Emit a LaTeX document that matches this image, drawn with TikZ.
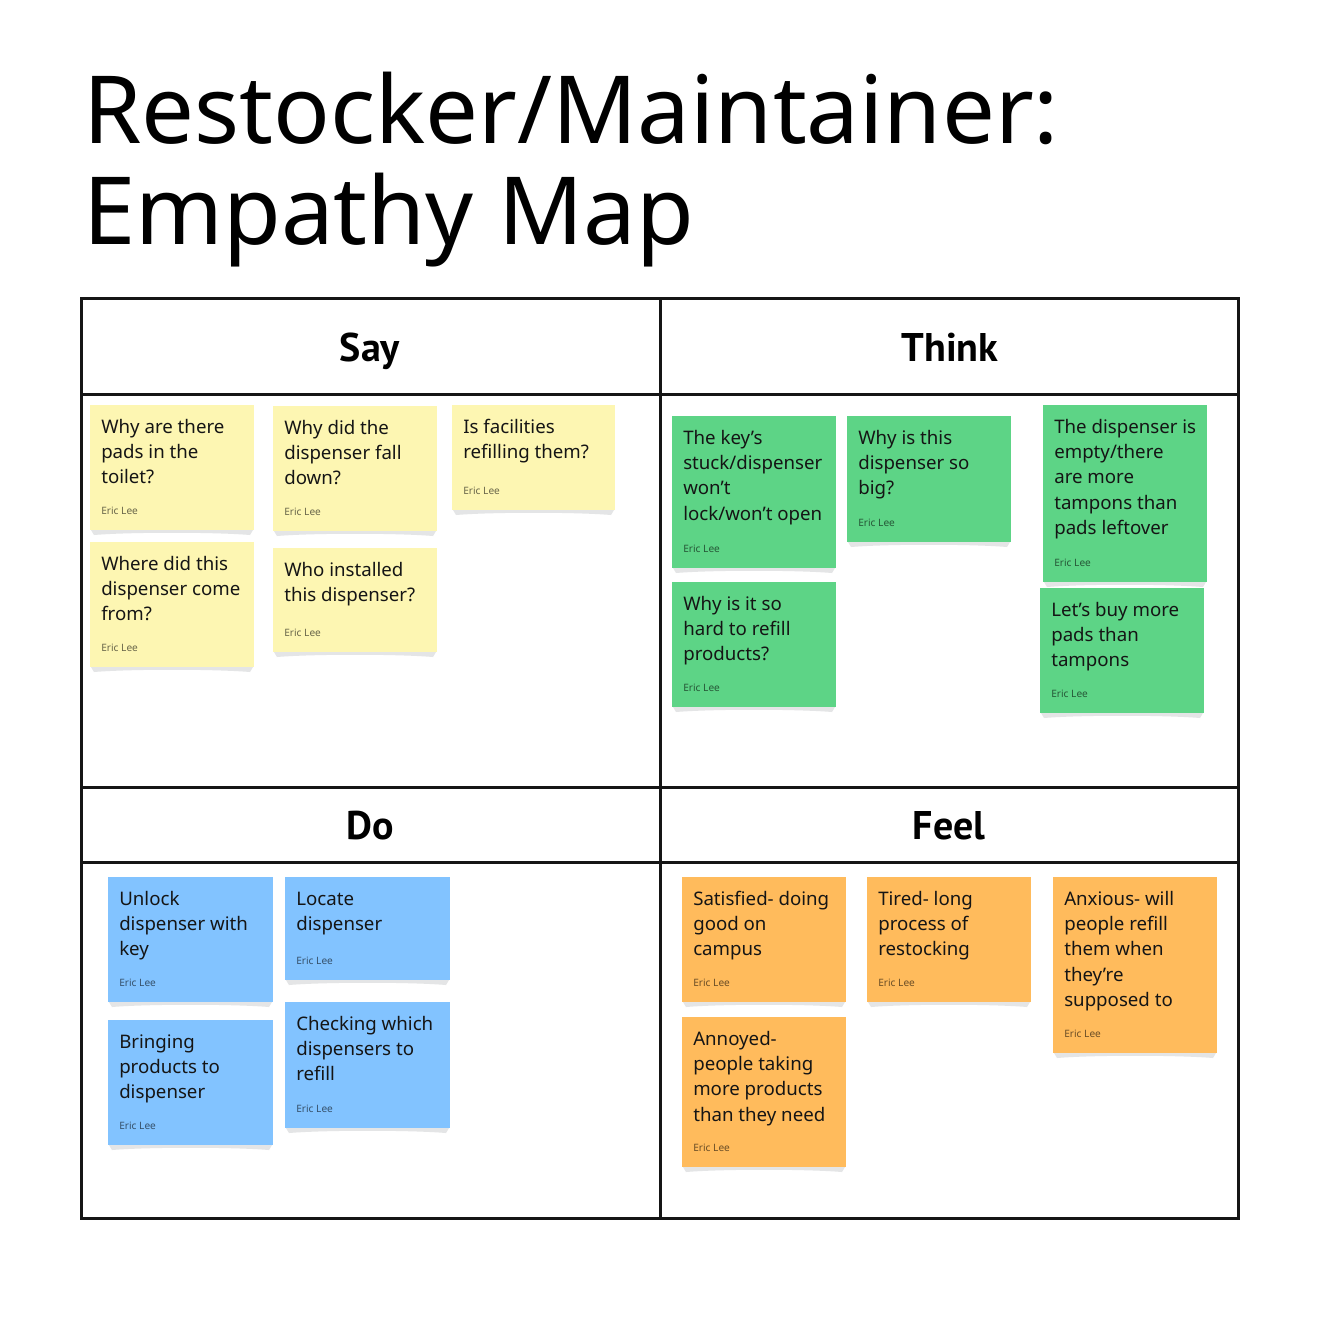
\documentclass[tikz,border=0pt]{standalone}
\usepackage{fontspec}
\setmainfont{Noto Sans}
\newfontfamily\hdrfont{PT Sans}
\definecolor{yel}{HTML}{FDF6B2}
\definecolor{grn}{HTML}{5DD486}
\definecolor{blu}{HTML}{82C3FF}
\definecolor{org}{HTML}{FFBB5C}
\definecolor{shd}{HTML}{E4E5E6}
\definecolor{ink}{HTML}{151515}
\newcommand\lns[2]{\vtop{\baselineskip=#1\halign{##\hfil\cr#2\crcr}}}
\tikzset{
  notetext/.style={anchor=base west, inner sep=0pt, text=ink, font=\fontsize{14pt}{19.1pt}\selectfont},
  author/.style={anchor=base west, inner sep=0pt, text=black, text opacity=0.58, font=\fontsize{7.6pt}{9pt}\selectfont},
  header/.style={anchor=base, inner sep=0pt, text=black, font=\hdrfont\bfseries\fontsize{30pt}{34pt}\selectfont},
  gridline/.style={line width=2.25pt, draw=ink},
}
% #1 name, #2 x1, #3 y1, #4 x2, #5 y2, #6 colour, #7 lines
\newcommand\sticky[7]{%
  \fill[shd] (#2+1,#5) -- (#4-1,#5) -- (#4-4,#5+5) .. controls (#4-40,#5+2) and (#2+40,#5+2) .. (#2+4,#5+5) -- cycle;
  \fill[#6] (#2,#3) rectangle (#4,#5);
  \node[notetext] (#1) at (#2+11,#3+28) {\lns{19.1pt}{#7}};
  \node[author] (#1-a) at (#2+11,#5-15.5) {Eric Lee};
}
\begin{document}
\begin{tikzpicture}[x=0.75pt,y=-0.75pt]
\useasboundingbox[fill=white] (0,0) rectangle (1337,1325);
% title
\node[anchor=base west, inner sep=0pt, font=\fontsize{70.5pt}{75.75pt}\selectfont] (title) at (83,143)
  {\lns{75.75pt}{Restocker/Maintainer:\cr Empathy Map}};
% grid
\draw[gridline] (81,298) rectangle (1238,1218);
\draw[gridline] (81,394) -- (1238,394);
\draw[gridline] (81,787) -- (1238,787);
\draw[gridline] (81,862) -- (1238,862);
\draw[gridline] (660,298) -- (660,1218);
\node[header] (say) at (370,361) {Say};
\node[header] (think) at (950,361) {Think};
\node[header] (do) at (370,839) {Do};
\node[header] (feel) at (949,839) {Feel};
% Say
\sticky{s1}{90}{405}{254}{530}{yel}{Why are there\cr pads in the\cr toilet?}
\sticky{s2}{273}{406}{437}{531}{yel}{Why did the\cr dispenser fall\cr down?}
\sticky{s3}{452}{405}{615}{510}{yel}{Is facilities\cr refilling them?}
\sticky{s4}{90}{542}{254}{667}{yel}{Where did this\cr dispenser come\cr from?}
\sticky{s5}{273}{548}{437}{652}{yel}{Who installed\cr this dispenser?}
% Think
\sticky{t1}{672}{416}{836}{568}{grn}{The key’s\cr stuck/dispenser\cr won’t\cr lock/won’t open}
\sticky{t2}{847}{416}{1011}{542}{grn}{Why is this\cr dispenser so\cr big?}
\sticky{t3}{1043}{405}{1207}{582}{grn}{The dispenser is\cr empty/there\cr are more\cr tampons than\cr pads leftover}
\sticky{t4}{672}{582}{836}{707}{grn}{Why is it so\cr hard to refill\cr products?}
\sticky{t5}{1040}{588}{1204}{713}{grn}{Let’s buy more\cr pads than\cr tampons}
% Do
\sticky{d1}{108}{877}{273}{1002}{blu}{Unlock\cr dispenser with\cr key}
\sticky{d2}{285}{877}{450}{980}{blu}{Locate\cr dispenser}
\sticky{d3}{108}{1020}{273}{1145}{blu}{Bringing\cr products to\cr dispenser}
\sticky{d4}{285}{1002}{450}{1128}{blu}{Checking which\cr dispensers to\cr refill}
% Feel
\sticky{f1}{682}{877}{846}{1002}{org}{Satisfied- doing\cr good on\cr campus}
\sticky{f2}{867}{877}{1031}{1002}{org}{Tired- long\cr process of\cr restocking}
\sticky{f3}{1053}{877}{1217}{1053}{org}{Anxious- will\cr people refill\cr them when\cr they’re\cr supposed to}
\sticky{f4}{682}{1017}{846}{1167}{org}{Annoyed-\cr people taking\cr more products\cr than they need}
\end{tikzpicture}
\end{document}
